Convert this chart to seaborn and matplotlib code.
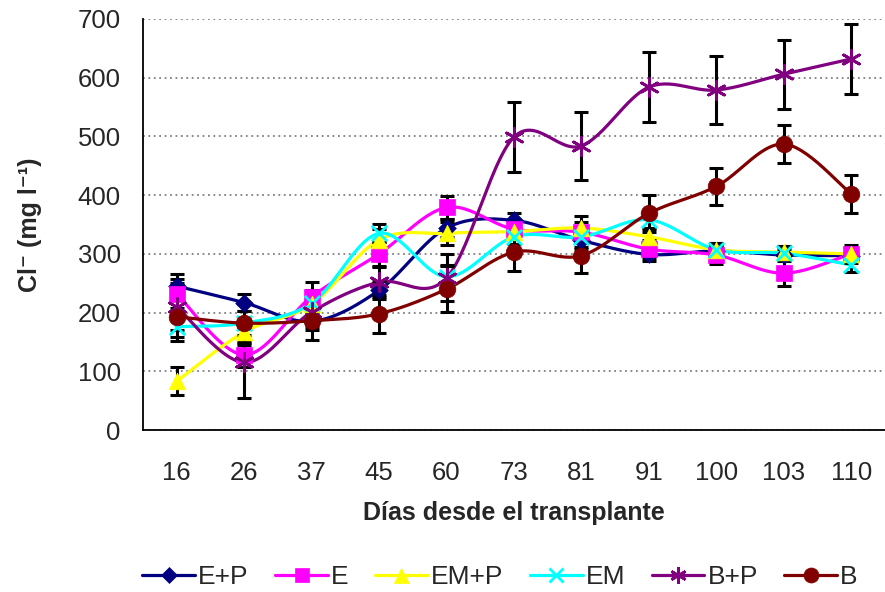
import numpy as np
import matplotlib
matplotlib.use("Agg")
import matplotlib.pyplot as plt
from matplotlib.ticker import FixedLocator, NullFormatter
import seaborn as sns

# Sampling days (categorical axis)
dias = ["16", "26", "37", "45", "60", "73", "81", "91", "100", "103", "110"]

# Chloride concentration (mg l-1) per treatment
ep = [245, 217, 185, 238, 344, 357, 323, 299, 305, 298, 297]
e = [232, 128, 227, 300, 379, 342, 337, 308, 298, 267, 300]
emp = [83, 167, 214, 324, 335, 338, 344, 329, 307, 303, 300]
em = [176, 182, 216, 335, 261, 329, 329, 358, 307, 301, 281]
bp = [210, 115, 201, 252, 259, 499, 484, 584, 579, 606, 632]
b = [193, 182, 186, 198, 240, 303, 297, 369, 415, 487, 402]

# Standard errors
ep_err = [20, 15, 15, 15, 15, 12, 15, 12, 10, 10, 10]
e_err = [25, 20, 25, 20, 20, 12, 18, 15, 15, 22, 15]
emp_err = [24, 22, 25, 18, 20, 10, 20, 15, 12, 10, 10]
em_err = [25, 20, 20, 15, 20, 12, 18, 15, 12, 12, 12]
bp_err = [40, 61, 25, 25, 40, 59, 58, 59, 58, 59, 59]
b_err = [35, 32, 32, 32, 39, 32, 30, 31, 32, 32, 32]

series = [
    ("E+P", ep, ep_err, "#000080", "D", 9),
    ("E", e, e_err, "#FF00FF", "s", 11),
    ("EM+P", emp, emp_err, "#FFFF00", "^", 12),
    ("EM", em, em_err, "#00FFFF", "x", 11),
    ("B+P", bp, bp_err, "#800080", (6, 2, 0), 13),
    ("B", b, b_err, "#800000", "o", 12),
]


def smooth(xs, ys, n=30):
    """Catmull-Rom curve through the points (spreadsheet style smoothing)."""
    xs = np.asarray(xs, float)
    ys = np.asarray(ys, float)
    px = np.concatenate([[xs[0]], xs, [xs[-1]]])
    py = np.concatenate([[ys[0]], ys, [ys[-1]]])
    outx, outy = [], []
    t = np.linspace(0, 1, n)
    for i in range(1, len(px) - 2):
        p0 = np.array([px[i], py[i]])
        p3 = np.array([px[i + 1], py[i + 1]])
        c1 = p0 + (np.array([px[i + 1], py[i + 1]]) - np.array([px[i - 1], py[i - 1]])) / 6
        c2 = p3 - (np.array([px[i + 2], py[i + 2]]) - np.array([px[i], py[i]])) / 6
        pts = ((1 - t) ** 3)[:, None] * p0 + (3 * (1 - t) ** 2 * t)[:, None] * c1 \
            + (3 * (1 - t) * t ** 2)[:, None] * c2 + (t ** 3)[:, None] * p3
        outx.extend(pts[:, 0])
        outy.extend(pts[:, 1])
    return np.array(outx), np.array(outy)


sns.set_style("white")
plt.rcParams["font.family"] = ["Liberation Sans", "DejaVu Sans"]

fig = plt.figure(figsize=(8.85, 5.92), dpi=100)
ax = fig.add_axes([143 / 885, 1 - 430 / 592, 742 / 885, 411 / 592])

x = np.arange(len(dias))
handles = []
for label, vals, errs, color, marker, ms in series:
    sx, sy = smooth(x, vals)
    ax.plot(sx, sy, color=color, lw=2.3, zorder=3, solid_capstyle="round")
    ax.errorbar(x, vals, yerr=errs, fmt="none", ecolor="black", elinewidth=2.2,
                capsize=5, capthick=2.2, zorder=4)
    mew = 2.0 if marker in ("x", (6, 2, 0)) else 0.5
    sns.scatterplot(x=x, y=vals, ax=ax, marker=marker, s=ms ** 2,
                    color=color, edgecolor=color, linewidth=mew, zorder=5, legend=False)
    h, = ax.plot([], [], color=color, lw=2.3, marker=marker, ms=ms * 0.9,
                 mec=color, mfc=color, mew=mew, label=label)
    handles.append(h)

ax.set_xlim(-0.5, len(dias) - 0.5)
ax.set_ylim(0, 700)
ax.set_yticks(range(0, 701, 100))
ax.set_xticks(x)
ax.set_xticklabels(dias)
ax.xaxis.set_minor_locator(FixedLocator(np.arange(-0.5, len(dias), 1.0)))
ax.xaxis.set_minor_formatter(NullFormatter())
ax.tick_params(axis="x", which="major", length=0, pad=22, labelsize=18.5)
ax.tick_params(axis="x", which="minor", length=8, width=1, color="#808080", direction="out")
ax.tick_params(axis="y", length=7, width=1, color="#808080", direction="out", labelsize=18.5, pad=9)
ax.grid(axis="y", color="#808080", linestyle=(0, (1, 2)), lw=1.3)
ax.grid(axis="x", visible=False)
for s in ("top", "right"):
    ax.spines[s].set_visible(False)
for s in ("left", "bottom"):
    ax.spines[s].set_color("black")
    ax.spines[s].set_linewidth(1.3)

ax.set_xlabel("Días desde el transplante", fontsize=18, fontweight="bold", labelpad=12)
ax.set_ylabel("Cl⁻ (mg l⁻¹)", fontsize=18, fontweight="bold", labelpad=26)

fig.legend(handles=handles, loc="center", bbox_to_anchor=(0.565, 1 - 577 / 592), ncol=6,
           frameon=False, fontsize=19, handlelength=2.0, handletextpad=0.12,
           columnspacing=1.0)

fig.savefig("out.png", dpi=100)
